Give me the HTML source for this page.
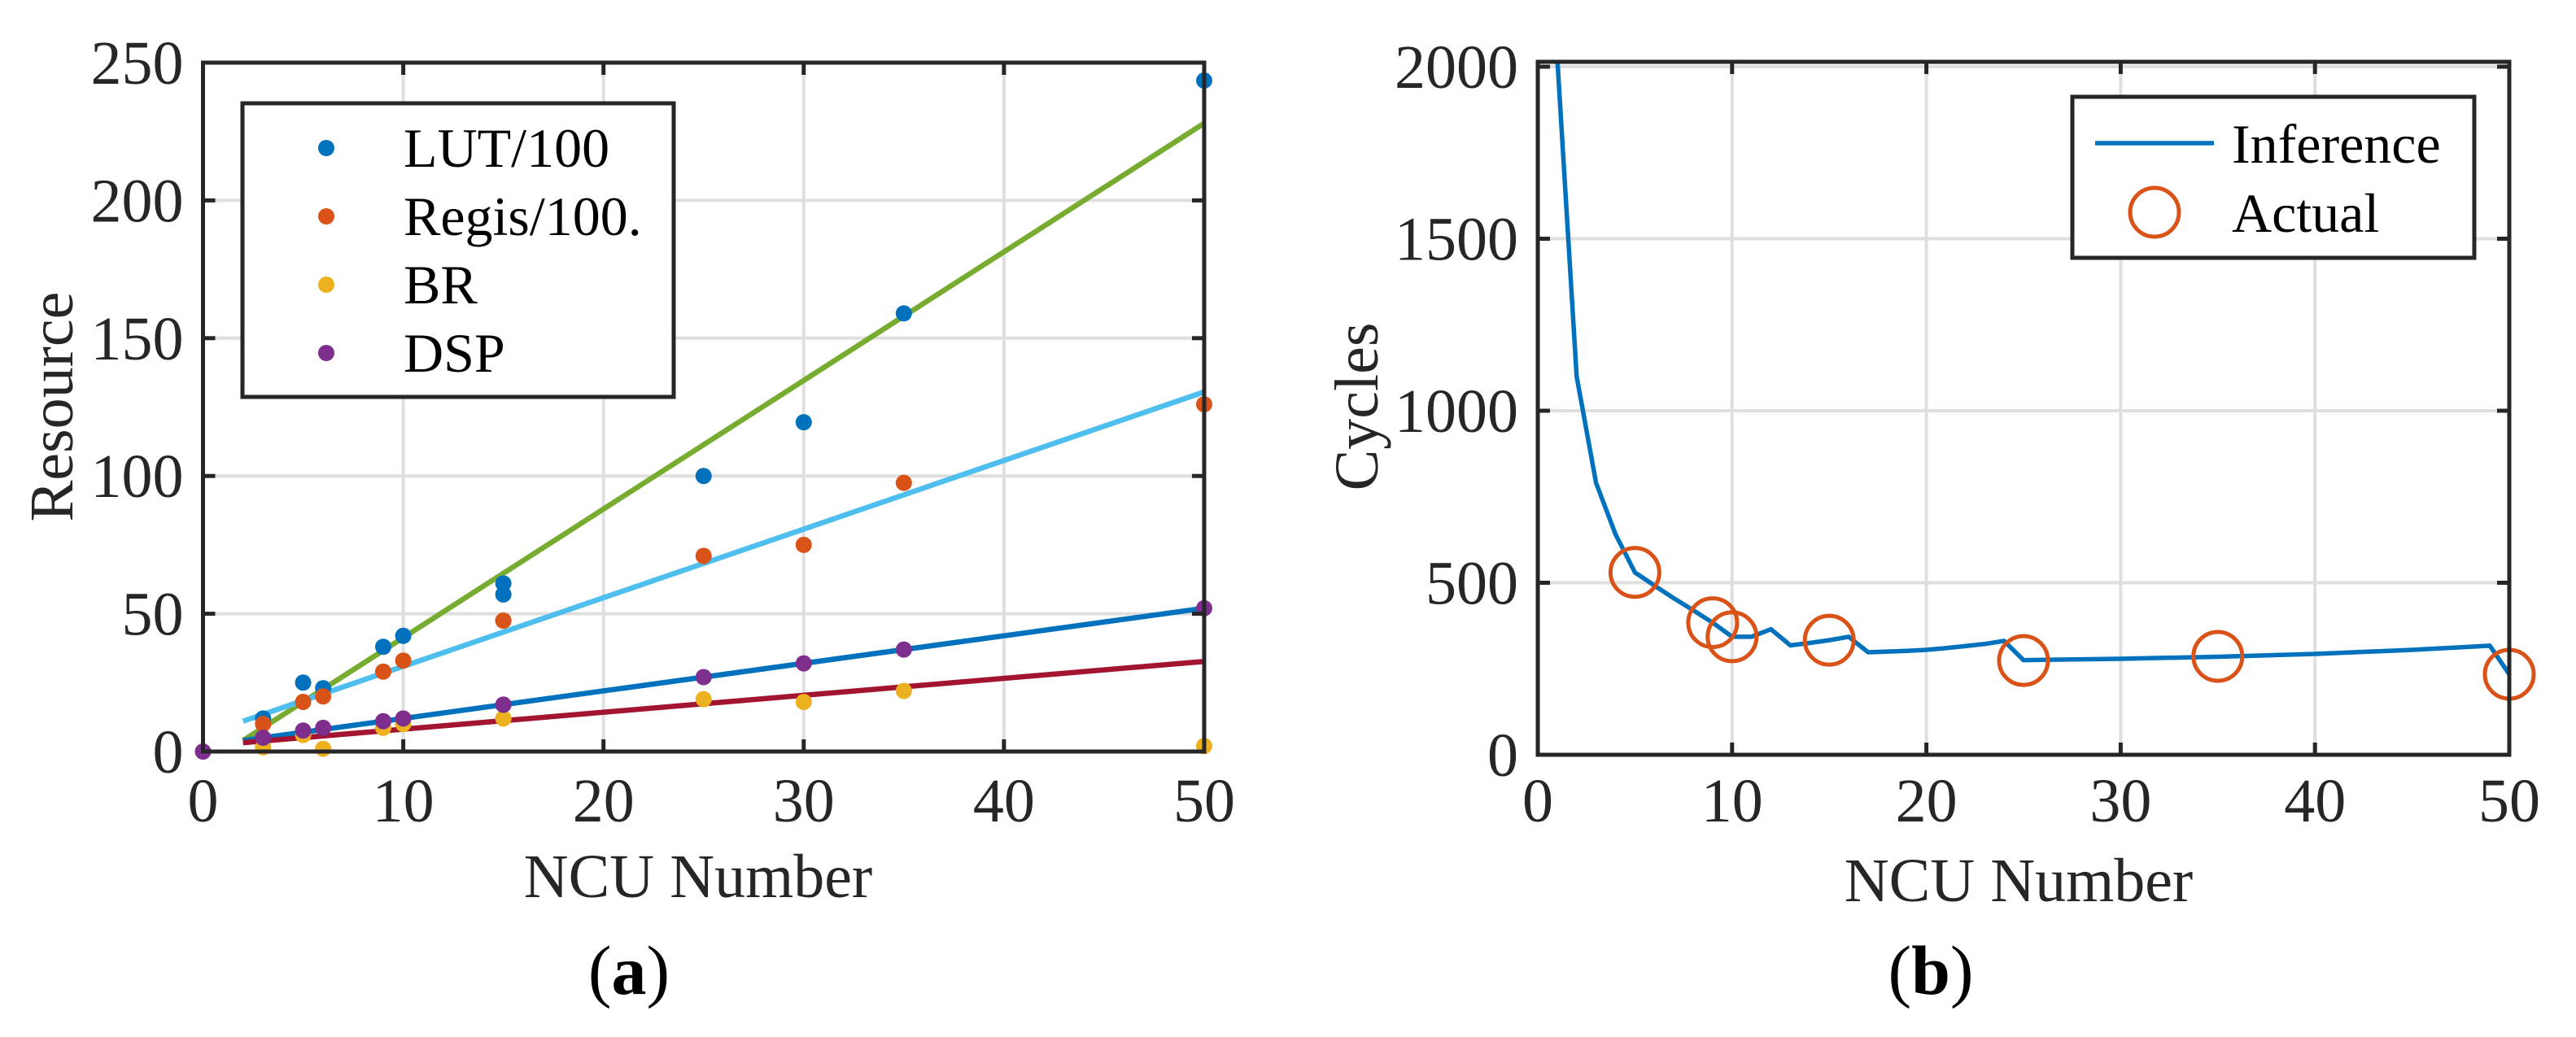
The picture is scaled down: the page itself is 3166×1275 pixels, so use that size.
<!DOCTYPE html>
<html><head><meta charset="utf-8"><style>
html,body{margin:0;padding:0;background:#fff;}
svg{display:block;font-family:"Liberation Serif",serif;}
</style></head><body>
<svg id="fig" width="3166" height="1275" viewBox="0 0 3166 1275" xmlns="http://www.w3.org/2000/svg">
<rect width="3166" height="1275" fill="#fff"/>
<g id="chartA"></g>
<g id="chartB"></g>
<text x="773" y="1222" font-size="86" text-anchor="middle">(<tspan font-weight="bold">a</tspan>)</text>
<text x="2373" y="1222" font-size="86" text-anchor="middle">(<tspan font-weight="bold">b</tspan>)</text>
</svg>
<script>
// ---- Chart A data ----
const aX = [0, 3, 5, 6, 9, 10, 15, 15, 25, 30, 35, 50];
const lutVals   = [null, 12, 25, 23, 38, 42, 61, 57, 100, 119.5, 159, 243.5];
const regisVals = [null, 10, 18, 20, 29, 33, 47.5, 47.5, 71, 75, 97.5, 126];
const brVals    = [null, 1.5, 6, 1, 8.6, 10, 12, 12, 19, 18, 22, 2];
const dspVals   = [0, 5, 7.6, 8.6, 11, 12, 17, 17, 27, 32, 37, 52];
const fitX = [2, 50];
const fitLut = [4, 228];
const fitRegis = [11, 130.5];
const fitDsp = [4, 52];
const fitBr = [3.2, 32.7];
const aXTicks = [0, 10, 20, 30, 40, 50];
const aYTicks = [0, 50, 100, 150, 200, 250];
// ---- Chart B data ----
const infX = [1, 2, 3, 4, 5, 6, 7, 8, 9, 10, 11, 12, 13, 14, 15, 16, 17, 18, 19, 20, 21, 22, 23, 24, 25, 30, 35, 40, 45, 49, 50];
const infY = [2028, 1100, 790, 641, 530, 492, 455, 420, 384, 343, 343, 365, 318, 325, 333, 343, 298, 300, 302, 305, 310, 316, 322, 331, 275, 279, 285, 293, 305, 317, 234];
const actX = [5, 9, 10, 15, 25, 35, 50];
const actY = [530, 384, 343, 333, 274, 286, 234];
const bXTicks = [0, 10, 20, 30, 40, 50];
const bYTicks = [0, 500, 1000, 1500, 2000];

const NS = "http://www.w3.org/2000/svg";
function mk(parent, tag, attrs, text) {
  const e = document.createElementNS(NS, tag);
  for (const k in attrs) e.setAttribute(k, attrs[k]);
  if (text !== undefined) e.textContent = text;
  parent.appendChild(e);
  return e;
}
const AX = "#262626", GRID = "#dfdfdf";

function axesFrame(g, L, R, T, B, sx, sy, xt, yt) {
  for (const v of xt) {
    const l = mk(g, "line", {x1: sx(v), x2: sx(v), y1: T, y2: B, stroke: GRID, "stroke-width": 4});
    
    
  }
  for (const v of yt) {
    const l = mk(g, "line", {x1: L, x2: R, y1: sy(v), y2: sy(v), stroke: GRID, "stroke-width": 4});
    
    
  }
}
function axesBorder(g, L, R, T, B, sx, sy, xt, yt) {
  const box = mk(g, "rect", {x: L, y: T, width: R - L, height: B - T, fill: "none", stroke: AX, "stroke-width": 5});
  
  
  for (const v of xt) {
    mk(g, "line", {x1: sx(v), x2: sx(v), y1: B, y2: B - 15, stroke: AX, "stroke-width": 5});
    mk(g, "line", {x1: sx(v), x2: sx(v), y1: T, y2: T + 15, stroke: AX, "stroke-width": 5});
    const t = mk(g, "text", {x: sx(v), y: 1010, "font-size": 76, "text-anchor": "middle", fill: AX}, String(v));
    
    
  }
  for (const v of yt) {
    mk(g, "line", {x1: L, x2: L + 15, y1: sy(v), y2: sy(v), stroke: AX, "stroke-width": 5});
    mk(g, "line", {x1: R, x2: R - 15, y1: sy(v), y2: sy(v), stroke: AX, "stroke-width": 5});
    const t = mk(g, "text", {x: L - 24, y: sy(v) + 26, "font-size": 76, "text-anchor": "end", fill: AX}, String(v));
    
    
  }
}

// ---------- Chart A ----------
(function () {
  const g = document.getElementById("chartA");
  const L = 249.5, R = 1480, T = 77, B = 924;
  const sx = v => L + (v / 50) * (R - L);
  const sy = v => B - (v / 250) * (B - T);
  axesFrame(g, L, R, T, B, sx, sy, aXTicks, aYTicks);
  const fits = [[fitLut, "#77AC30", 'fit-line-lut'], [fitRegis, "#4DBEEE", 'fit-line-regis'], [fitDsp, "#0072BD", 'fit-line-dsp'], [fitBr, "#A2142F", 'fit-line-br']];
  for (const [ys, c, n] of fits) {
    const l = mk(g, "line", {x1: sx(fitX[0]), y1: sy(ys[0]), x2: sx(fitX[1]), y2: sy(ys[1]), stroke: c, "stroke-width": 6.5});
    
    
  }
  const series = [[lutVals, "#0072BD", 'lut-point'], [regisVals, "#D95319", 'regis-point'], [brVals, "#EDB120", 'br-point'], [dspVals, "#7E2F8E", 'dsp-point']];
  for (const [vals, c, n] of series) {
    vals.forEach((v, i) => {
      if (v === null) return;
      const p = mk(g, "circle", {cx: sx(aX[i]), cy: sy(v), r: 10, fill: c});
      
      
    });
  }
  axesBorder(g, L, R, T, B, sx, sy, aXTicks, aYTicks);
  const lg = mk(g, "g", {});
  
  
  mk(lg, "rect", {x: 298, y: 127, width: 530, height: 361, fill: "#fff", stroke: AX, "stroke-width": 5});
  const labels = ["LUT/100", "Regis/100.", "BR", "DSP"];
  const cols = ["#0072BD", "#D95319", "#EDB120", "#7E2F8E"];
  labels.forEach((s, i) => {
    const cy = 182 + i * 84;
    const d = mk(lg, "circle", {cx: 401, cy: cy, r: 10, fill: cols[i]});
    
    
    const t = mk(lg, "text", {x: 496, y: cy + 23, "font-size": 68, fill: "#000"}, s);
    
    
  });
  const xl = mk(g, "text", {x: 858, y: 1103, "font-size": 76, "text-anchor": "middle", fill: AX}, "NCU Number");
  
  
  const yl = mk(g, "text", {x: 0, y: 0, "font-size": 76, "text-anchor": "middle", fill: AX, transform: "translate(89,500) rotate(-90)"}, "Resource");
  
  
})();

// ---------- Chart B ----------
(function () {
  const g = document.getElementById("chartB");
  const L = 1890, R = 3084, T = 76, B = 928;
  const sx = v => L + (v / 50) * (R - L);
  const sy = v => B - (v / 2000) * (B - 82);
  axesFrame(g, L, R, T, B, sx, sy, bXTicks, bYTicks);
  const clip = mk(g, "clipPath", {id: "clipB"});
  mk(clip, "rect", {x: L, y: T, width: R - L, height: B - T});
  const pts = infX.map((x, i) => sx(x) + "," + sy(infY[i])).join(" ");
  const pl = mk(g, "polyline", {points: pts, fill: "none", stroke: "#0072BD", "stroke-width": 5.5, "stroke-linejoin": "round", "clip-path": "url(#clipB)"});
  
  
  actX.forEach((x, i) => {
    const c = mk(g, "circle", {cx: sx(x), cy: sy(actY[i]), r: 30, fill: "none", stroke: "#D95319", "stroke-width": 5});
    
    
  });
  axesBorder(g, L, R, T, B, sx, sy, bXTicks, bYTicks);
  const lg = mk(g, "g", {});
  
  
  mk(lg, "rect", {x: 2547, y: 119, width: 494, height: 198, fill: "#fff", stroke: AX, "stroke-width": 5});
  mk(lg, "line", {x1: 2575, x2: 2721, y1: 176, y2: 176, stroke: "#0072BD", "stroke-width": 5.5});
  mk(lg, "circle", {cx: 2648, cy: 261, r: 30, fill: "none", stroke: "#D95319", "stroke-width": 5});
  const t1 = mk(lg, "text", {x: 2743, y: 200, "font-size": 68, fill: "#000"}, "Inference");
  
  
  const t2 = mk(lg, "text", {x: 2743, y: 285, "font-size": 68, fill: "#000"}, "Actual");
  
  
  const xl = mk(g, "text", {x: 2481, y: 1108, "font-size": 76, "text-anchor": "middle", fill: AX}, "NCU Number");
  
  
  const yl = mk(g, "text", {x: 0, y: 0, "font-size": 76, "text-anchor": "middle", fill: AX, transform: "translate(1693,500) rotate(-90)"}, "Cycles");
  
  
})();
</script>
</body></html>
